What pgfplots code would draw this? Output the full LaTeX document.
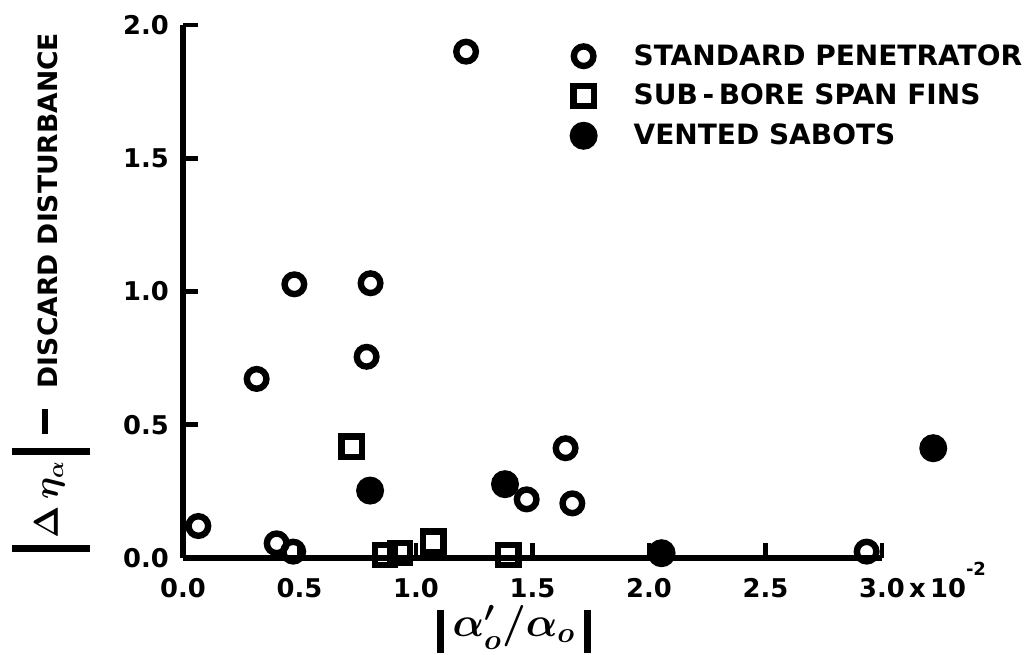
\documentclass[border=0pt]{standalone}
\usepackage[no-math]{fontspec}
\setmainfont{DejaVu Sans}
\usepackage{pgfplots}
\pgfplotsset{compat=1.18}
\begin{document}
\begin{tikzpicture}
\begin{axis}[
  x=116.5pt, y=133.25pt,
  xmin=0, xmax=3, ymin=0, ymax=2,
  axis lines*=left,
  axis line style={line width=2.6pt, black},
  clip=false,
  tick align=inside,
  major tick length=7.5pt,
  every tick/.append style={line width=2.4pt, black},
  xtick={0,0.5,1,1.5,2,2.5,3},
  xticklabels={0.0,0.5,1.0,1.5,2.0,2.5,{3.0\rlap{\,x\,10\smash{\raisebox{11pt}{\fontsize{9}{10}\selectfont -2}}}}},
  ytick={0,0.5,1,1.5,2},
  yticklabels={0.0,0.5,1.0,1.5,2.0},
  tick label style={font=\fontsize{12.9}{15}\selectfont\bfseries, text=black},
  xticklabel style={yshift=-6.8pt},
  yticklabel style={xshift=-3.5pt},
  legend style={at={(0.554,0.972)}, anchor=north west, draw=none, fill=none, inner sep=0pt,
    font=\fontsize{14}{16}\selectfont\bfseries, row sep=4pt, column sep=16.5pt},
  legend cell align=left,
]
\addplot[only marks, mark=o, mark size=4.9pt, mark options={line width=3.2pt, black}] coordinates {
 (0.066,0.12) (0.316,0.672) (0.478,1.027) (0.805,1.031) (0.788,0.755) (0.402,0.055)
 (0.473,0.024) (1.475,0.22) (1.642,0.412) (1.671,0.205) (1.215,1.90) (2.934,0.024)
};
\addlegendentry{STANDARD PENETRATOR}
\addplot[only marks, mark=square, mark size=5.1pt, mark options={line width=3.2pt, black}] coordinates {
 (0.724,0.418) (0.867,0.011) (0.931,0.019) (1.074,0.061) (1.396,0.011)
};
\addlegendentry{SUB\,-\,BORE SPAN FINS}
\addplot[only marks, mark=*, mark size=6.5pt, mark options={line width=1pt, draw=black, fill=black}] coordinates {
 (0.803,0.253) (1.382,0.277) (3.22,0.412) (2.054,0.018)
};
\addlegendentry{VENTED SABOTS}
\coordinate (O) at (axis cs:0,0);
\node[rotate=90, anchor=base west, inner sep=0pt, font=\fontsize{13.3}{16}\selectfont\bfseries]
  at ([shift={(-62.5pt,3pt)}]axis cs:0,0)
  {\rule[-16pt]{3.5pt}{39pt}\makebox[45pt]{\fontsize{16}{18}\selectfont\boldmath$\Delta\,\eta_{\alpha}$}\rule[-16pt]{3.5pt}{39pt}\hspace{6.75pt}\rule[5pt]{12.5pt}{3pt}\hspace{10.5pt}DISCARD DISTURBANCE};
\node[anchor=center, inner sep=0pt]
  at ([shift={(165.5pt,-35.5pt)}]axis cs:0,0)
  {\rule[-8pt]{3.5pt}{21.5pt}\makebox[70pt]{\fontsize{20}{22}\selectfont\boldmath$\alpha'_{o}/\alpha_{o}$}\rule[-8pt]{3.5pt}{21.5pt}};
\end{axis}
\pgfresetboundingbox
\path ([shift={(-91.5pt,-48pt)}]O) rectangle ([shift={(422pt,279pt)}]O);
\end{tikzpicture}
\end{document}
